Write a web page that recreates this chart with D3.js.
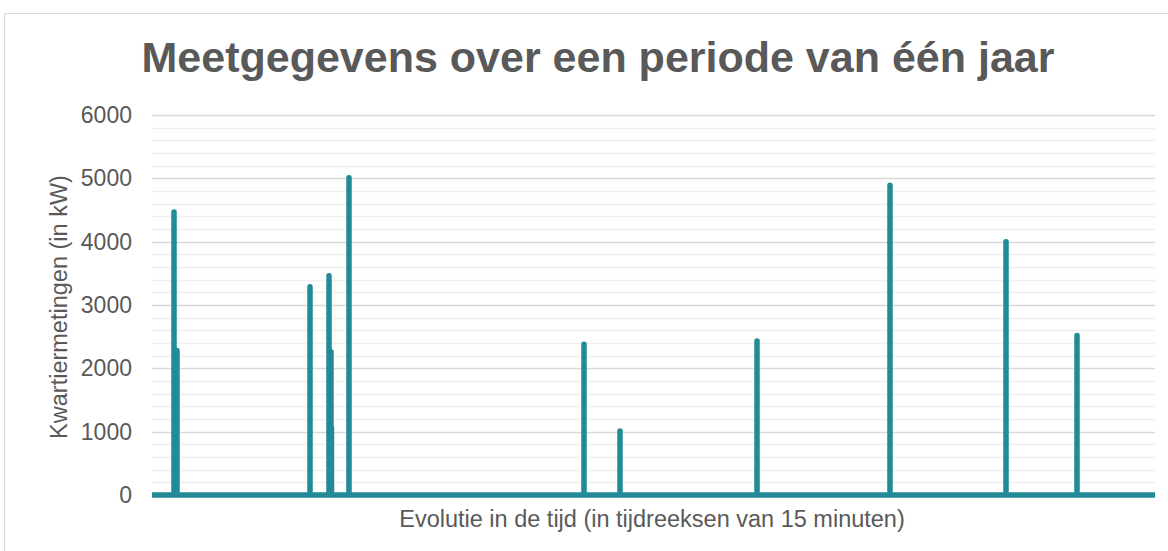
<!doctype html>
<html>
<head>
<meta charset="utf-8">
<style>
  body { margin: 0; background: #fff; }
  text { font-family: "Liberation Sans", Arial, sans-serif; fill: #595959; }
</style>
<script src="https://d3js.org/d3.v7.min.js"></script>
</head>
<body>
<svg width="1168" height="551"></svg>
<script>
// one year of quarter-hour readings = 35040 slots, nearly all zero
var slotCount = 35040;
// slots where a reading was not zero, and what was measured there (kW)
var spikeSlots  = [769, 873, 5520, 6184, 6253, 6270, 6882, 15092, 16350, 21136, 25782, 29835, 32315];
var spikeValues = [4470, 2280, 3290, 3460, 2260, 1060, 5010, 2380, 1010, 2430, 4890, 4000, 2520];
var yTicks = [0, 1000, 2000, 3000, 4000, 5000, 6000];

var titleText = "Meetgegevens over een periode van één jaar";
var yTitle = "Kwartiermetingen (in kW)";
var xTitle = "Evolutie in de tijd (in tijdreeksen van 15 minuten)";

// build the series: zero baseline with a point before/after each reading
var series = [[0, 0]];
spikeSlots.forEach(function(s, i) {
    series.push([s - 1, 0]);
    series.push([s, spikeValues[i]]);
    series.push([s + 1, 0]);
});
series.push([slotCount, 0]);

var svg = d3.select("svg");
var plotL = 152, plotR = 1155, plotT = 115, plotB = 495;

svg.append("rect")
   .attr("x", 4.5).attr("y", 13.5)
   .attr("width", 1200).attr("height", 600)
   .attr("fill", "#fff").attr("stroke", "#d9d9d9");

var x = d3.scaleLinear().domain([0, slotCount]).range([plotL, plotR]);
var y = d3.scaleLinear().domain([0, 6000]).range([plotB, plotT]);

// minor gridlines every 200
svg.append("g").selectAll("line")
   .data(d3.range(200, 6000, 200).filter(function(v) { return v % 1000 != 0; }))
   .enter().append("line")
   .attr("x1", plotL).attr("x2", plotR)
   .attr("y1", function(d) { return Math.round(y(d)) + 0.5; })
   .attr("y2", function(d) { return Math.round(y(d)) + 0.5; })
   .attr("stroke", "#f0f0f0").attr("stroke-width", 1.5);

// major gridlines
svg.append("g").selectAll("line")
   .data(yTicks.slice(1))
   .enter().append("line")
   .attr("x1", plotL).attr("x2", plotR)
   .attr("y1", function(d) { return Math.round(y(d)) + 0.5; })
   .attr("y2", function(d) { return Math.round(y(d)) + 0.5; })
   .attr("stroke", "#d9d9d9").attr("stroke-width", 1.5);

// y tick labels
var yAxis = svg.append("g")
   .attr("transform", "translate(" + (plotL - 20) + ",0)")
   .call(d3.axisLeft(y).tickValues(yTicks).tickFormat(d3.format("d")).tickSize(0).tickPadding(0));
yAxis.select(".domain").remove();
yAxis.selectAll("text")
   .attr("font-size", 23)
   .attr("font-family", "Liberation Sans, Arial, sans-serif")
   .style("fill", "#595959");

// the measurements
var line = d3.line()
   .x(function(d) { return x(d[0]); })
   .y(function(d) { return y(d[1]); });

svg.append("path")
   .datum(series)
   .attr("d", line)
   .attr("fill", "none")
   .attr("stroke", "#238a97")
   .attr("stroke-width", 5.5)
   .attr("stroke-linejoin", "round")
   .attr("stroke-linecap", "butt");

svg.append("text")
   .attr("x", 598).attr("y", 72)
   .attr("text-anchor", "middle")
   .attr("font-size", 43)
   .attr("font-weight", "bold")
   .text(titleText);

svg.append("text")
   .attr("transform", "translate(67,307) rotate(-90)")
   .attr("text-anchor", "middle")
   .attr("font-size", 23.5)
   .text(yTitle);

svg.append("text")
   .attr("x", 652).attr("y", 527)
   .attr("text-anchor", "middle")
   .attr("font-size", 23.5)
   .text(xTitle);
</script>
</body>
</html>
